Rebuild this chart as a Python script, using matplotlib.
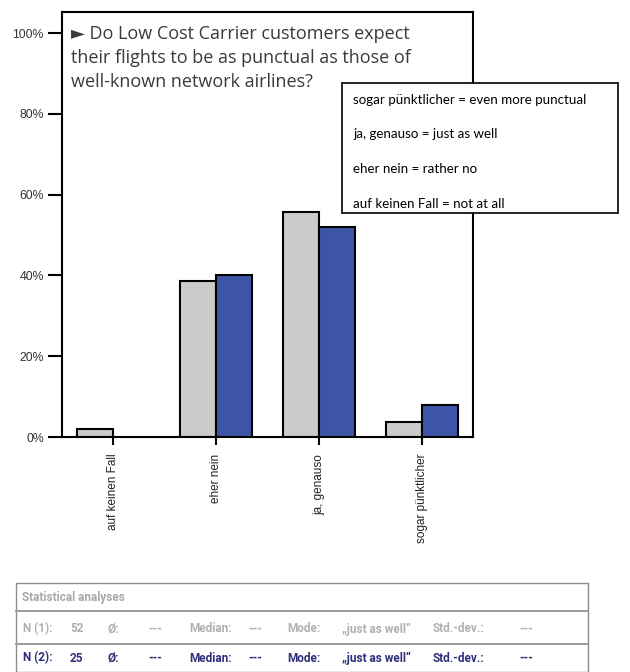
import matplotlib
matplotlib.use("Agg")
import matplotlib.pyplot as plt
from matplotlib.patches import Rectangle
from matplotlib.lines import Line2D
import numpy as np

categories = ["auf keinen Fall", "eher nein", "ja, genauso", "sogar pünktlicher"]
series1 = [1.9, 38.5, 55.8, 3.8]   # N(1)=52, grey
series2 = [0.0, 40.0, 52.0, 8.0]   # N(2)=25, blue
yticks = [0, 20, 40, 60, 80, 100]
title_text = "► Do Low Cost Carrier customers expect\ntheir flights to be as punctual as those of\nwell-known network airlines?"
legend_lines = ["sogar pünktlicher = even more punctual",
                "ja, genauso = just as well",
                "eher nein = rather no",
                "auf keinen Fall = not at all"]
stats_header = "Statistical analyses"
stats_row1 = ["N (1):", "52", "Ø:", "---", "Median:", "---", "Mode:", "„just as well“", "Std.-dev.:", "---"]
stats_row2 = ["N (2):", "25", "Ø:", "---", "Median:", "---", "Mode:", "„just as well“", "Std.-dev.:", "---"]

W, H = 630, 672
fig = plt.figure(figsize=(W/100, H/100), dpi=100)
fig.patch.set_facecolor("white")

def fx(px): return px / W
def fy(py): return 1 - py / H

ax = fig.add_axes([fx(62), fy(437), fx(473) - fx(62), fy(12) - fy(437)])
x = np.arange(len(categories))
w = 0.35
grey = "#cbcbcb"
blue = "#3c55a6"
ax.bar(x - w/2, series1, width=w, color=grey, edgecolor="black", linewidth=1.5, zorder=2)
s2 = [v if v > 0 else np.nan for v in series2]
ax.bar(x + w/2, s2, width=w, color=blue, edgecolor="black", linewidth=1.5, zorder=3)
ax.set_xlim(-0.5, 3.5)
ax.set_ylim(0, 105.2)
ax.set_yticks(yticks)
ax.set_yticklabels([f"{t}%" for t in yticks], fontsize=8.8, family="Liberation Sans", color="#333333")
ax.set_xticks(x)
ax.set_xticklabels(categories, rotation=90, fontsize=8.5, family="Liberation Sans", color="#222222", va="top")
ax.tick_params(axis="y", length=10, width=1.5, pad=3)
ax.tick_params(axis="x", length=6, width=1.5, pad=6)
for s in ax.spines.values():
    s.set_linewidth(1.5)
    s.set_color("black")

fig.text(fx(71), fy(25), title_text, fontsize=13.0, family=["Open Sans", "DejaVu Sans"],
         color="#3a3a3a", va="top", ha="left", linespacing=1.42)

# legend-like box
fig.patches.append(Rectangle((fx(342), fy(213)), fx(618) - fx(342), fy(83) - fy(213),
                             transform=fig.transFigure, facecolor="white", edgecolor="black",
                             linewidth=1.2, zorder=5))
for i, t in enumerate(legend_lines):
    fig.text(fx(353), fy(100 + i * 34.5), t, fontsize=9.6, family=["Lato", "DejaVu Sans"],
             color="black", va="center", ha="left", zorder=6)

# stats table
tcol = "#a9a9a9"
fig.patches.append(Rectangle((fx(16), fy(672)), fx(588) - fx(16), fy(583) - fy(672),
                             transform=fig.transFigure, facecolor="white", edgecolor="#8c8c8c",
                             linewidth=1.0))
for yy in (611, 644):
    fig.add_artist(Line2D([fx(16), fx(588)], [fy(yy), fy(yy)], color="#9a9a9a", linewidth=1.4))
fig.text(fx(22), fy(597), stats_header, fontsize=8.5, family=["Roboto", "DejaVu Sans"],
         weight="bold", color=tcol, va="center")
colx = [23, 70, 107, 148, 189, 248, 287, 342, 433, 519]
for row, yy, c in ((stats_row1, 629, "#b0b0b0"), (stats_row2, 658, "#2e2f7a")):
    for xx, t in zip(colx, row):
        fig.text(fx(xx), fy(yy), t, fontsize=8.5, family=["Roboto", "DejaVu Sans"],
                 weight="bold", color=c, va="center")

fig.savefig("out.png", dpi=100)
